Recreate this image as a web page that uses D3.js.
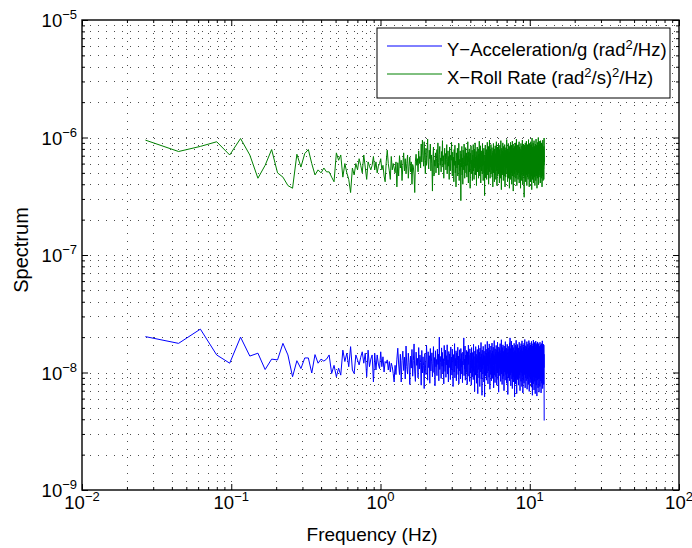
<!DOCTYPE html>
<html>
<head>
<meta charset="utf-8">
<script src="https://cdn.jsdelivr.net/npm/d3@7"></script>
<style>
  body { margin: 0; background: #fff; }
  svg { display: block; }
  text { font-family: "Liberation Sans", Arial, Helvetica, sans-serif; fill: #000; }
</style>
</head>
<body>
<svg id="chart" width="692" height="548"></svg>
<script>
// Frequency grid of the spectral estimate (Hz): first bin and bin spacing
const F0 = 0.0266;
const DF = 0.01776;

// X-Roll Rate spectrum, in units of 1e-8 (rad^2/s)^2/Hz
const rollRate = [
  95, 76, 84, 92, 71, 98, 71, 45, 58, 79,
  50, 46, 39, 37, 72, 56, 73, 79, 60, 48,
  53, 50, 55, 51, 51, 46, 42, 74, 64, 71,
  46, 60, 50, 44, 34, 55, 48, 60, 53, 66,
  58, 50, 71, 56, 44, 62, 57, 53, 58, 69,
  53, 62, 50, 57, 60, 66, 53, 58, 47, 42,
  62, 78, 60, 52, 44, 69, 53, 60, 55, 50,
  62, 38,
  61, 47, 70, 55, 64, 43, 58, 74, 52, 66, 49, 60, 71, 45, 57, 68, 51, 62, 40, 59,
  56, 48, 34, 63, 72, 58, 66, 51, 77, 60, 69, 55, 88, 62, 95, 70, 57, 92, 64, 49,
  81, 58, 73, 97, 62, 54, 78, 66, 88, 52, 71, 60, 35, 69, 83, 47, 64, 57, 74, 50,
  66, 79, 55, 90, 61, 48, 72, 84, 58, 67, 51, 76, 63, 94, 56, 70, 45, 68, 81, 59,
  73, 53, 65, 87, 49, 62, 77, 57, 69, 44, 83, 60, 52, 71, 64, 91, 55, 47, 75, 61,
  68, 42, 79, 58, 86, 50, 63, 38, 74, 66, 55, 81, 47, 70, 59, 89, 43, 65, 52, 77,
  61, 29, 72, 56, 84, 48, 67, 40, 78, 59, 53, 88, 63, 45, 70, 57, 82, 50, 66, 74,
  46, 69, 58, 92, 54, 41, 75, 62, 80, 51, 67, 37, 73, 60, 85, 49, 64, 56, 78, 43,
  71, 59, 87, 52, 65, 44, 79, 61, 55, 90, 48, 68, 57, 76, 39, 70, 63, 83, 51, 66,
  58, 80, 45, 72, 54, 93, 62, 47, 69, 56, 85, 41, 74, 60, 52, 77, 65, 49, 88, 57,
  67, 43, 76, 59, 81, 50, 63, 32, 71, 55, 86, 46, 68, 61, 53, 79, 44, 73, 58, 91,
  62, 48, 75, 54, 84, 40, 69, 57, 66, 95, 51, 72, 45, 63, 78, 56, 87, 49, 70, 60,
  53, 82, 46, 74, 64, 38, 77, 58, 89, 50, 67, 55, 71, 42, 80, 61, 48, 85, 59, 66,
  44, 73, 57, 92, 52, 68, 39, 76, 63, 83, 47, 70, 56, 61, 88, 49, 75, 54, 65, 41,
  79, 58, 86, 51, 69, 62, 45, 94, 57, 72, 36, 67, 81, 53, 64, 48, 77, 60, 90, 50,
  71, 43, 63, 84, 56, 74, 47, 66, 59, 87, 52, 38, 78, 62, 69, 46, 82, 55, 73, 58,
  64, 96, 49, 70, 53, 80, 42, 67, 61, 76, 57, 89, 45, 72, 51, 65, 85, 54, 37, 75,
  60, 83, 48, 68, 56, 91, 44, 71, 63, 79, 50, 58, 86, 40, 74, 62, 55, 93, 47, 66,
  77, 52, 69, 35, 81, 59, 64, 88, 46, 73, 57, 84, 49, 67, 61, 42, 78, 54, 90, 63,
  70, 45, 82, 56, 65, 97, 51, 74, 39, 68, 60, 86, 48, 72, 55, 79, 63, 44, 87, 58,
  66, 50, 76, 62, 92, 41, 71, 57, 83, 53, 64, 46, 80, 59, 69, 37, 75, 52, 89, 61,
  48, 78, 56, 67, 43, 85, 60, 72, 51, 95, 58, 65, 40, 81, 54, 70, 62, 47, 88, 57,
  74, 49, 66, 31, 79, 59, 86, 52, 68, 45, 77, 61, 90, 55, 63, 42, 83, 57, 71, 50,
  64, 93, 48, 73, 58, 39, 80, 62, 69, 54, 87, 46, 75, 60, 52, 84, 44, 70, 66, 96,
  56, 76, 49, 81, 61, 38, 72, 58, 89, 51, 67, 63, 45, 85, 55, 78, 42, 70, 60, 92,
  53, 74, 64, 47, 87, 57, 68, 36, 80, 59, 99, 50, 71, 62, 44, 83, 56, 77, 65, 48,
  90, 54, 73, 41, 79, 61, 67, 52, 94, 58, 70, 46, 84, 63, 55, 76, 39, 81, 60, 72,
  50, 88, 57, 66, 43, 78, 62, 97, 53, 74, 47, 69, 59, 86, 51, 64, 37, 82, 58, 75,
  45, 71, 63, 91, 55, 68, 49, 80, 60, 100, 52, 73, 40, 77, 61, 86, 48, 66, 57, 93,
  67, 52, 81, 59, 73, 46, 88, 55, 64, 41, 77, 60, 94, 50, 70, 57, 85, 48, 63, 75,
  58, 90, 45, 69, 54, 82, 61, 38, 76, 66, 51, 87, 59, 72, 47, 95, 56, 68, 43, 80,
  62, 53, 78, 65,
  54, 70, 44, 84, 62, 99, 58
];

// Y-Acceleration/g spectrum, in units of 1e-10 rad^2/Hz
const yAccel = [
  202, 177, 234, 141, 120, 200, 138, 146, 106, 130,
  128, 177, 141, 92, 126, 108, 133, 133, 99, 142,
  120, 130, 125, 130, 141, 98, 115, 92, 109, 95,
  155, 124, 146, 112, 166, 105, 98, 141, 128, 116,
  135, 150, 120, 146, 92, 155, 112, 130, 141, 83,
  146, 105, 141, 118, 108, 150, 112, 136, 101, 124,
  120, 128, 105, 124, 101, 120, 112, 98, 83, 115,
  96, 130,
  161, 118, 96, 143, 83, 127, 152, 104, 135, 88, 168, 112, 97, 146, 121, 79, 138, 109, 157, 93,
  126, 175, 101, 84, 149, 115, 132, 90, 163, 107, 141, 122, 78, 154, 99, 136, 114, 73, 145, 118,
  96, 171, 128, 86, 150, 110, 139, 81, 160, 103, 125, 147, 92, 119, 166, 100, 134, 77, 153, 112,
  129, 94, 158, 117, 143, 85, 200, 106, 137, 121, 89, 162, 113, 148, 98, 131, 80, 170, 124, 102,
  155, 91, 139, 116, 172, 97, 128, 83, 151, 110, 144, 120, 87, 165, 105, 135, 95, 158, 118, 76,
  142, 123, 101, 176, 90, 132, 114, 153, 85, 147, 108, 127, 164, 96, 138, 80, 119, 156, 103, 131,
  88, 160, 111, 145, 97, 125, 82, 149, 116, 136, 197, 94, 130, 107, 168, 86, 141, 122, 100, 154,
  113, 79, 150, 128, 93, 171, 117, 140, 104, 84, 159, 124, 99, 146, 134, 78, 163, 109, 129, 92,
  148, 118, 87, 174, 102, 137, 115, 69, 152, 126, 95, 166, 110, 143, 81, 133, 121, 157, 98, 66,
  139, 106, 170, 119, 90, 149, 127, 76, 161, 112, 135, 101, 180, 88, 144, 123, 64, 155, 108, 131,
  97, 167, 116, 141, 83, 152, 125, 62, 138, 111, 173, 94, 129, 105, 158, 86, 146, 120, 99, 184,
  114, 136, 80, 162, 103, 127, 150, 91, 175, 118, 140, 72, 155, 109, 132, 96, 168, 124, 85, 145,
  107, 178, 121, 89, 153, 130, 100, 164, 115, 74, 142, 126, 187, 95, 137, 111, 82, 159, 119, 148,
  92, 133, 170, 104, 143, 78, 156, 122, 99, 181, 113, 135, 87, 150, 128, 68, 165, 108, 139, 117,
  160, 94, 131, 176, 102, 146, 84, 124, 154, 110, 190, 97, 138, 120, 79, 163, 114, 142, 88, 172,
  106, 134, 151, 93, 126, 70, 168, 116, 140, 101, 157, 123, 86, 183, 109, 132, 96, 147, 118, 161,
  81, 144, 127, 105, 174, 98, 136, 115, 65, 158, 121, 149, 90, 129, 167, 103, 141, 112, 85, 179,
  119, 152, 197, 95, 134, 108, 160, 77, 145, 125, 100, 185, 113, 139, 88, 156, 122, 73, 171, 106,
  142, 130, 92, 163, 117, 148, 83, 137, 110, 177, 98, 126, 62, 154, 121, 143, 94, 169, 114, 80,
  151, 128, 104, 188, 91, 135, 118, 66, 166, 109, 146, 124, 87, 173, 102, 140, 115, 157, 97, 131,
  78, 162, 120, 144, 89, 181, 107, 133, 150, 95, 127, 70, 168, 113, 138, 101, 155, 123, 84, 176,
  111, 145, 99, 160, 129, 76, 186, 117, 139, 93, 153, 105, 132, 67, 172, 121, 147, 86, 164, 108,
  136, 119, 81, 178, 102, 150, 126, 96, 191, 114, 141, 74, 158, 110, 133, 90, 169, 122, 104, 147,
  85, 165, 116, 139, 98, 183, 127, 72, 155, 109, 144, 120, 88, 174, 103, 134, 152, 79, 161, 118,
  142, 94, 187, 112, 130, 69, 167, 106, 149, 125, 91, 179, 115, 137, 82, 157, 121, 100, 171, 110,
  146, 87, 163, 128, 75, 184, 104, 138, 119, 96, 176, 113, 151, 64, 168, 124, 92, 159, 107, 143,
  131, 80, 189, 117, 140, 99, 165, 111, 71, 154, 126, 93, 180, 108, 136, 84, 170, 122, 148, 66,
  161, 114, 134, 90, 185, 103, 145, 127, 78, 173, 118, 152, 97, 164, 109, 63, 177, 121, 139, 86,
  158, 112, 182, 95, 147, 130, 74, 169, 106, 141, 88, 176, 116, 154, 100, 135, 68, 163, 125, 92,
  128, 89, 167, 115, 142, 76, 181, 104, 137, 120, 95, 172, 110, 149, 85, 160, 124, 67, 155, 108,
  133, 98, 176, 117, 144, 81, 165, 112, 139, 92, 186, 121, 102, 152, 73, 169, 127, 146, 90, 158,
  114, 135, 99, 174,
  150, 79, 171, 110, 143, 87, 39
];

// Axis tick exponents (decades) and legend entries
const xTickExps = [-2, -1, 0, 1, 2];
const yTickExps = [-9, -8, -7, -6, -5];
const legendEntries = [
  { key: "yAccel", color: "#0000ff",
    parts: [["Y\u2212Acceleration/g (rad", 0], ["2", 1], ["/Hz)", 0]] },
  { key: "rollRate", color: "#008000",
    parts: [["X\u2212Roll Rate (rad", 0], ["2", 1], ["/s)", 0], ["2", 1], ["/Hz)", 0]] }
];

const svg = d3.select("#chart");
const W = 692, H = 548;
const plot = { left: 82, right: 679, top: 20, bottom: 490 };

const x = d3.scaleLog().domain([1e-2, 1e2]).range([plot.left, plot.right]);
const y = d3.scaleLog().domain([1e-9, 1e-5]).range([plot.bottom, plot.top]);

svg.append("rect").attr("width", W).attr("height", H).attr("fill", "#fff");

// Major and minor tick values on both axes
function logTicks(e0, e1) {
  const major = [], minor = [];
  for (let e = e0; e <= e1; e++) {
    major.push(Math.pow(10, e));
    if (e < e1) for (let m = 2; m <= 9; m++) minor.push(m * Math.pow(10, e));
  }
  return { major, minor };
}
const xt = logTicks(xTickExps[0], xTickExps[xTickExps.length - 1]);
const yt = logTicks(yTickExps[0], yTickExps[yTickExps.length - 1]);

// Dotted grid
const grid = svg.append("g").attr("stroke", "#000").attr("stroke-width", 1)
  .attr("stroke-dasharray", "1,7").attr("stroke-opacity", 0.7);
xt.major.concat(xt.minor).forEach(v => {
  const px = Math.round(x(v)) + 0.5;
  if (px <= plot.left + 1 || px >= plot.right - 1) return;
  grid.append("line").attr("x1", px).attr("x2", px)
    .attr("y1", plot.bottom).attr("y2", plot.top);
});
yt.major.concat(yt.minor).forEach(v => {
  const py = Math.round(y(v)) + 0.5;
  if (py <= plot.top + 1 || py >= plot.bottom - 1) return;
  grid.append("line").attr("y1", py).attr("y2", py)
    .attr("x1", plot.left).attr("x2", plot.right);
});

// Spectra
const clipId = "plotclip";
svg.append("clipPath").attr("id", clipId).append("rect")
  .attr("x", plot.left).attr("y", plot.top)
  .attr("width", plot.right - plot.left).attr("height", plot.bottom - plot.top);

const seriesData = {
  yAccel: yAccel.map((v, i) => ({ f: F0 + i * DF, v: v * 1e-10 })),
  rollRate: rollRate.map((v, i) => ({ f: F0 + i * DF, v: v * 1e-8 }))
};
const line = d3.line().x(d => x(d.f)).y(d => y(d.v));
const dataG = svg.append("g").attr("clip-path", `url(#${clipId})`);
legendEntries.forEach(s => {
  dataG.append("path").datum(seriesData[s.key])
    .attr("fill", "none").attr("stroke", s.color).attr("stroke-width", 1)
    .attr("stroke-linejoin", "round").attr("d", line);
});

// Inward ticks on all four sides
function tickAxis(axisFn, scale, values, size, transform) {
  const g = svg.append("g").attr("transform", transform)
    .call(axisFn(scale).tickValues(values).tickSize(size).tickFormat(""));
  g.select(".domain").remove();
  g.selectAll("line").attr("stroke", "#000").attr("stroke-width", 1);
  return g;
}
tickAxis(d3.axisBottom, x, xt.major, -6, `translate(0,${plot.bottom})`);
tickAxis(d3.axisBottom, x, xt.minor, -3, `translate(0,${plot.bottom})`);
tickAxis(d3.axisTop, x, xt.major, -6, `translate(0,${plot.top})`);
tickAxis(d3.axisTop, x, xt.minor, -3, `translate(0,${plot.top})`);
tickAxis(d3.axisLeft, y, yt.major, -6, `translate(${plot.left},0)`);
tickAxis(d3.axisLeft, y, yt.minor, -3, `translate(${plot.left},0)`);
tickAxis(d3.axisRight, y, yt.major, -6, `translate(${plot.right},0)`);
tickAxis(d3.axisRight, y, yt.minor, -3, `translate(${plot.right},0)`);

// Frame
svg.append("rect").attr("x", plot.left).attr("y", plot.top)
  .attr("width", plot.right - plot.left).attr("height", plot.bottom - plot.top)
  .attr("fill", "none").attr("stroke", "#000").attr("stroke-width", 1.4);

// Power-of-ten tick labels
const fs = 18.5, supFs = 13;
function powLabel(sel, e) {
  sel.append("tspan").text("10");
  sel.append("tspan").attr("font-size", supFs).attr("dy", -8)
    .text(e < 0 ? "\u2212" + Math.abs(e) : String(e));
}
xTickExps.forEach(e => {
  const t = svg.append("text").attr("x", x(Math.pow(10, e))).attr("y", plot.bottom + 19)
    .attr("text-anchor", "middle").attr("font-size", fs);
  powLabel(t, e);
});
yTickExps.forEach(e => {
  const t = svg.append("text").attr("x", plot.left - 5).attr("y", y(Math.pow(10, e)) + 7)
    .attr("text-anchor", "end").attr("font-size", fs);
  powLabel(t, e);
});

// Axis titles
svg.append("text").attr("x", 372).attr("y", 541)
  .attr("text-anchor", "middle").attr("font-size", 19).text("Frequency (Hz)");
svg.append("text").attr("transform", "translate(28,250) rotate(-90)")
  .attr("text-anchor", "middle").attr("font-size", 20).text("Spectrum");

// Legend
const lg = svg.append("g");
lg.append("rect").attr("x", 377).attr("y", 28).attr("width", 293).attr("height", 70)
  .attr("fill", "#fff").attr("stroke", "#000").attr("stroke-width", 1);
legendEntries.forEach((s, i) => {
  const ly = 46 + i * 28;
  lg.append("line").attr("x1", 387).attr("x2", 442).attr("y1", ly).attr("y2", ly)
    .attr("stroke", s.color).attr("stroke-width", 1);
  const t = lg.append("text").attr("x", 447).attr("y", ly + 10).attr("font-size", fs);
  let raised = false;
  s.parts.forEach(([txt, sup]) => {
    const sp = t.append("tspan").text(txt);
    if (sup && !raised) { sp.attr("font-size", supFs).attr("dy", -7); raised = true; }
    else if (!sup && raised) { sp.attr("dy", 7); raised = false; }
  });
});
</script>
</body>
</html>
